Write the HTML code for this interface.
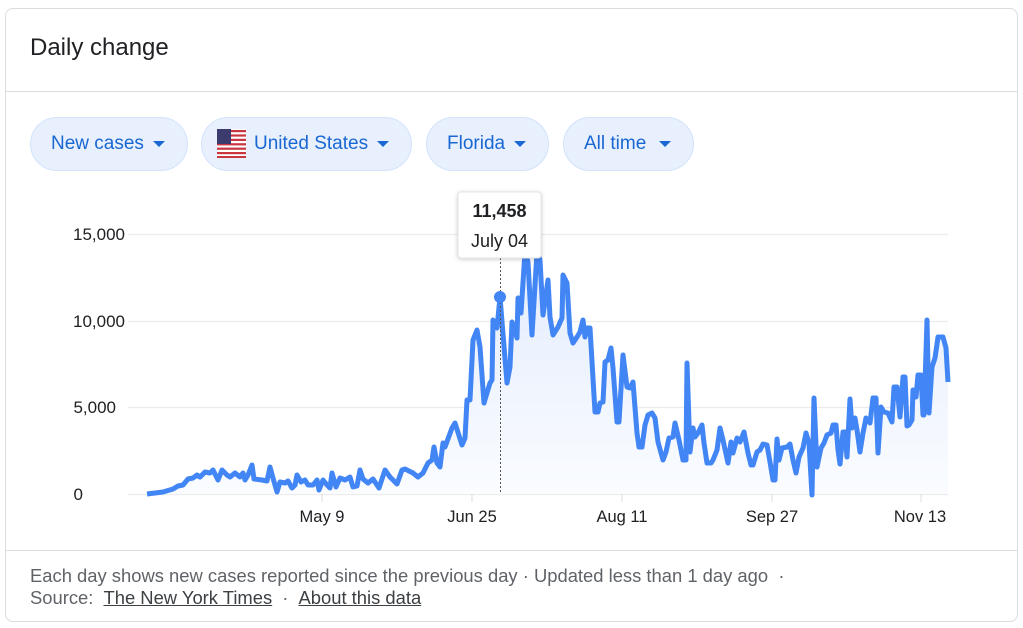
<!DOCTYPE html>
<html><head><meta charset="utf-8"><style>
*{margin:0;padding:0;box-sizing:border-box}
body{width:1023px;height:628px;background:#fff;font-family:"Liberation Sans",Arial,sans-serif;position:relative;overflow:hidden}
.card{position:absolute;left:5px;top:8px;width:1013px;height:614px;border:1px solid #dadce0;border-radius:8px}
.title{position:absolute;left:30px;top:34px;font-size:24px;color:#202124}
.hr{position:absolute;left:5px;width:1013px;height:1px;background:#dadce0}
.chip{position:absolute;top:117px;height:54px;border-radius:27px;background:#e8f0fe;border:1px solid #d2e3fc;color:#1967d2;font-size:19px;line-height:52px;padding-left:20px}
.chip .ar{position:absolute;top:23px;width:0;height:0;border-left:6px solid transparent;border-right:6px solid transparent;border-top:6px solid #1967d2}
.foot{position:absolute;left:30px;font-size:18.4px;color:#5f6368;white-space:nowrap}
.foot u{color:#3c4043;margin:0 5px}
</style></head><body>
<div class="card"></div>
<div class="title">Daily change</div>
<div class="hr" style="top:91px"></div>
<div class="hr" style="top:550px"></div>
<div class="chip" style="left:30px;width:158px">New cases<span class="ar" style="left:122px"></span></div>
<div class="chip" style="left:201px;width:211px;padding-left:52px">United States<span class="ar" style="left:175px"></span>
<svg style="position:absolute;left:15px;top:11px" width="29" height="29" viewBox="0 0 29 29"><rect width="29" height="29" fill="#fff"/><g fill="#c8363f"><rect y="1" width="29" height="2.2"/><rect y="5.4" width="29" height="2.2"/><rect y="9.8" width="29" height="2.2"/><rect y="14.2" width="29" height="2.2"/><rect y="18.6" width="29" height="2.2"/><rect y="23" width="29" height="2.2"/><rect y="27" width="29" height="2"/></g><rect width="14" height="15" fill="#3c3b6e"/></svg></div>
<div class="chip" style="left:426px;width:123px">Florida<span class="ar" style="left:87px"></span></div>
<div class="chip" style="left:563px;width:131px">All time<span class="ar" style="left:95px"></span></div>
<svg style="position:absolute;left:0;top:0" width="1023" height="628">
<defs><linearGradient id="g" x1="0" y1="0" x2="0" y2="1"><stop offset="0" stop-color="#e3ecfd"/><stop offset="1" stop-color="#fafcff"/></linearGradient></defs>
<g stroke="#ececec" stroke-width="1.3"><line x1="128" y1="234.5" x2="948" y2="234.5"/><line x1="128" y1="321.5" x2="948" y2="321.5"/><line x1="128" y1="407.5" x2="948" y2="407.5"/><line x1="128" y1="494.5" x2="948" y2="494.5"/></g>
<g stroke="#dadce0"><line x1="322" y1="494" x2="322" y2="502"/><line x1="472" y1="494" x2="472" y2="502"/><line x1="622" y1="494" x2="622" y2="502"/><line x1="772" y1="494" x2="772" y2="502"/><line x1="921" y1="494" x2="921" y2="502"/></g>
<g font-size="17" fill="#202124" text-anchor="end"><text x="125" y="240">15,000</text><text x="125" y="327">10,000</text><text x="116" y="413">5,000</text><text x="83" y="500">0</text></g>
<g font-size="16.5" fill="#202124" text-anchor="middle"><text x="322" y="522">May 9</text><text x="472" y="522">Jun 25</text><text x="622" y="522">Aug 11</text><text x="772" y="522">Sep 27</text><text x="920" y="522">Nov 13</text></g>
<polyline fill="url(#g)" stroke="none" points="147,494 163,492 173,489 178,486 183,485 188,479 193,478 197,475 200,477 205,472 210,473 213,470 218,480 222,470 227,475 230,477 235,473 240,477 243,473 245,480 248,475 252,465 254,479 262,480 267,481 270,467 273,478 277,492 280,482 285,483 288,481 292,488 295,485 297,475 301,482 305,480 308,485 313,485 317,480 319,490 323,480 327,485 330,488 332,473 336,487 340,478 345,480 350,477 353,487 357,486 360,470 363,479 368,483 373,479 379,488 385,470 390,477 397,484 402,470 405,469 413,473 418,477 423,473 428,463 432,460 434,447 437,463 440,467 443,443 445,447 452,428 455,423 462,445 465,438 467,400 470,400 473,340 477,330 480,347 484,403 490,383 492,380 493,320 497,328 500,297 507,383 510,367 512,322 517,338 518,298 521,313 525,252 528,262 532,335 537,252 540,260 543,315 548,280 550,317 553,335 558,327 562,318 563,275 567,283 570,333 573,343 577,337 580,332 583,320 585,337 587,328 590,328 595,412 598,412 600,403 603,402 605,362 608,360 611,348 613,368 617,422 619,422 623,355 627,387 630,388 633,382 637,433 639,447 642,447 645,425 648,415 652,413 655,418 658,442 663,460 666,452 669,438 673,437 675,423 679,440 683,460 686,460 687,363 690,452 693,428 695,437 698,433 702,425 704,443 707,463 711,463 713,460 717,450 720,428 723,440 728,463 731,442 733,453 737,438 740,442 744,432 748,453 751,465 753,465 757,452 760,450 763,444 767,445 770,462 773,480 775,480 777,439 779,460 782,448 787,447 790,444 793,460 796,473 799,457 803,448 806,433 809,443 812,495 814,398 817,467 821,448 824,443 827,435 831,433 833,425 836,425 838,450 840,464 843,432 845,432 847,457 850,399 852,428 855,418 857,430 860,452 863,433 866,418 870,423 873,398 876,398 878,453 881,407 884,412 888,413 892,422 894,387 897,387 900,417 903,377 905,377 907,426 909,425 912,420 913,390 916,397 918,375 921,375 923,415 924,415 927,320 929,413 932,367 935,358 938,337 943,337 946,348 948,382 948,494 147,494"/>
<polyline fill="none" stroke="#4285f4" stroke-width="5" stroke-linejoin="round" points="147,494 163,492 173,489 178,486 183,485 188,479 193,478 197,475 200,477 205,472 210,473 213,470 218,480 222,470 227,475 230,477 235,473 240,477 243,473 245,480 248,475 252,465 254,479 262,480 267,481 270,467 273,478 277,492 280,482 285,483 288,481 292,488 295,485 297,475 301,482 305,480 308,485 313,485 317,480 319,490 323,480 327,485 330,488 332,473 336,487 340,478 345,480 350,477 353,487 357,486 360,470 363,479 368,483 373,479 379,488 385,470 390,477 397,484 402,470 405,469 413,473 418,477 423,473 428,463 432,460 434,447 437,463 440,467 443,443 445,447 452,428 455,423 462,445 465,438 467,400 470,400 473,340 477,330 480,347 484,403 490,383 492,380 493,320 497,328 500,297 507,383 510,367 512,322 517,338 518,298 521,313 525,252 528,262 532,335 537,252 540,260 543,315 548,280 550,317 553,335 558,327 562,318 563,275 567,283 570,333 573,343 577,337 580,332 583,320 585,337 587,328 590,328 595,412 598,412 600,403 603,402 605,362 608,360 611,348 613,368 617,422 619,422 623,355 627,387 630,388 633,382 637,433 639,447 642,447 645,425 648,415 652,413 655,418 658,442 663,460 666,452 669,438 673,437 675,423 679,440 683,460 686,460 687,363 690,452 693,428 695,437 698,433 702,425 704,443 707,463 711,463 713,460 717,450 720,428 723,440 728,463 731,442 733,453 737,438 740,442 744,432 748,453 751,465 753,465 757,452 760,450 763,444 767,445 770,462 773,480 775,480 777,439 779,460 782,448 787,447 790,444 793,460 796,473 799,457 803,448 806,433 809,443 812,495 814,398 817,467 821,448 824,443 827,435 831,433 833,425 836,425 838,450 840,464 843,432 845,432 847,457 850,399 852,428 855,418 857,430 860,452 863,433 866,418 870,423 873,398 876,398 878,453 881,407 884,412 888,413 892,422 894,387 897,387 900,417 903,377 905,377 907,426 909,425 912,420 913,390 916,397 918,375 921,375 923,415 924,415 927,320 929,413 932,367 935,358 938,337 943,337 946,348 948,382"/>
<line x1="500.5" y1="258" x2="500.5" y2="494" stroke="#555" stroke-width="1" stroke-dasharray="2,2"/>
<circle cx="500" cy="297" r="6" fill="#4285f4"/>
<rect x="458" y="192" width="83" height="66" rx="3" fill="#fff" stroke="#e4e4e4" style="filter:drop-shadow(0 1px 2px rgba(0,0,0,.2))"/>
<text x="499.5" y="217" font-size="18" font-weight="bold" fill="#202124" text-anchor="middle">11,458</text>
<text x="499.5" y="247" font-size="18" fill="#202124" text-anchor="middle">July 04</text>
</svg>
<div class="foot" style="top:565px">Each day shows new cases reported since the previous day · Updated less than 1 day ago &nbsp;·</div>
<div class="foot" style="top:587px">Source: <u>The New York Times</u> · <u>About this data</u></div>
</body></html>
